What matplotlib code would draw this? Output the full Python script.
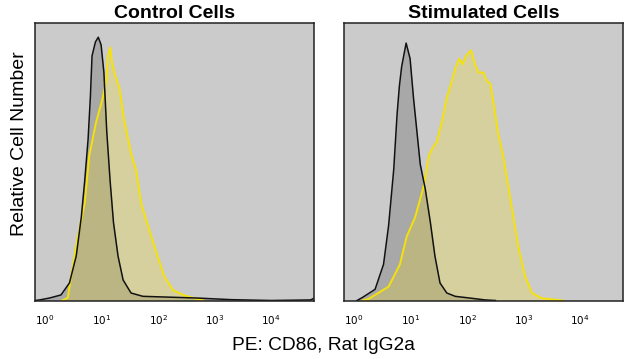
import matplotlib
matplotlib.use('Agg')
import matplotlib.pyplot as plt
import numpy as np

plt.rcParams['font.family'] = ['Liberation Sans', 'DejaVu Sans']

titles = ['Control Cells', 'Stimulated Cells']
x_label = 'PE: CD86, Rat IgG2a'
y_label = 'Relative Cell Number'
tick_exps = [0, 1, 2, 3, 4]

# log10 intensity positions and relative counts
ctrl_iso_log = [-0.18, -0.1, 0.08, 0.28, 0.43, 0.55, 0.64, 0.70, 0.76, 0.80, 0.83,
                0.89, 0.94, 0.99, 1.04, 1.09, 1.15, 1.21, 1.29, 1.38, 1.52, 1.73,
                2.2, 2.67, 3.3, 4.0, 4.7, 4.76]
ctrl_iso_cnt = [0.0, 0.002, 0.009, 0.02, 0.063, 0.16, 0.30, 0.43, 0.58, 0.73, 0.88,
                0.93, 0.947, 0.92, 0.82, 0.61, 0.43, 0.28, 0.16, 0.074, 0.027, 0.015,
                0.012, 0.009, 0.003, 0.0, 0.002, 0.008]

ctrl_ab_log = [0.30, 0.40, 0.55, 0.70, 0.78, 0.90, 1.02, 1.08, 1.11, 1.15, 1.19,
               1.24, 1.32, 1.39, 1.45, 1.52, 1.61, 1.70, 1.85, 1.99, 2.11, 2.26,
               2.44, 2.61, 2.8]
ctrl_ab_cnt = [0.0, 0.01, 0.2, 0.35, 0.52, 0.64, 0.73, 0.79, 0.88, 0.91, 0.85,
               0.81, 0.76, 0.66, 0.60, 0.53, 0.47, 0.35, 0.25, 0.16, 0.086, 0.038,
               0.02, 0.01, 0.0]

stim_iso_log = [0.05, 0.14, 0.37, 0.52, 0.61, 0.70, 0.76, 0.80, 0.84, 0.92, 0.99,
                1.05, 1.11, 1.17, 1.26, 1.35, 1.43, 1.52, 1.64, 1.79, 2.08, 2.32, 2.5]
stim_iso_cnt = [0.0, 0.01, 0.04, 0.13, 0.27, 0.47, 0.67, 0.77, 0.84, 0.926, 0.87,
                0.73, 0.61, 0.49, 0.40, 0.28, 0.16, 0.063, 0.027, 0.015, 0.008,
                0.002, 0.0]

stim_ab_log = [0.15, 0.25, 0.61, 0.81, 0.93, 1.08, 1.23, 1.32, 1.39, 1.46, 1.55,
               1.64, 1.73, 1.80, 1.86, 1.92, 1.98, 2.07, 2.14, 2.20, 2.29, 2.35,
               2.41, 2.47, 2.55, 2.64, 2.73, 2.82, 2.91, 3.03, 3.15, 3.32, 3.56, 3.7]
stim_ab_cnt = [0.0, 0.005, 0.05, 0.13, 0.23, 0.30, 0.41, 0.52, 0.55, 0.57, 0.64,
               0.73, 0.79, 0.84, 0.87, 0.85, 0.88, 0.90, 0.85, 0.82, 0.82, 0.79,
               0.78, 0.71, 0.60, 0.52, 0.41, 0.30, 0.19, 0.086, 0.027, 0.008, 0.003,
               0.0]

panels = [(ctrl_iso_log, ctrl_iso_cnt, ctrl_ab_log, ctrl_ab_cnt),
          (stim_iso_log, stim_iso_cnt, stim_ab_log, stim_ab_cnt)]

fig = plt.figure(figsize=(6.4, 3.59), dpi=100)
lefts = [35 / 640, 344 / 640]
for i, left in enumerate(lefts):
    ax = fig.add_axes([left, 58.5 / 359, 279 / 640, 278 / 359])
    iso_x, iso_y, ab_x, ab_y = panels[i]
    iso_x = 10 ** np.array(iso_x)
    ab_x = 10 ** np.array(ab_x)
    ax.set_facecolor('#cbcbcb')
    ax.fill_between(iso_x, 0, iso_y, color='black', alpha=0.17, lw=0)
    ax.fill_between(ab_x, 0, ab_y, color='#ffe400', alpha=0.22, lw=0)
    ax.plot(ab_x, ab_y, color='#f5e20a', lw=1.4)
    ax.plot(iso_x, iso_y, color='#111111', lw=1.1)
    ax.set_xscale('log')
    ax.set_xlim(10 ** -0.18, 10 ** 4.76)
    ax.set_ylim(0, 1.0)
    ax.set_yticks([])
    ax.set_xticks([10.0 ** e for e in tick_exps])
    ax.set_xticklabels([r'$10^{%d}$' % e for e in tick_exps], fontsize=7.5)
    ax.xaxis.set_minor_locator(matplotlib.ticker.NullLocator())
    ax.tick_params(axis='x', length=0, pad=9)
    for sp in ax.spines.values():
        sp.set_linewidth(1.1)
        sp.set_color('#222222')
    ax.set_title(titles[i], fontsize=14, fontweight='bold', pad=2)

fig.text(20 / 640, 1 - 143.5 / 359, y_label, fontsize=14, rotation=90,
         ha='center', va='center')
fig.text(323 / 640, 1 - 345 / 359, x_label, fontsize=13.8, ha='center', va='center')

fig.savefig('out.png', dpi=100)
